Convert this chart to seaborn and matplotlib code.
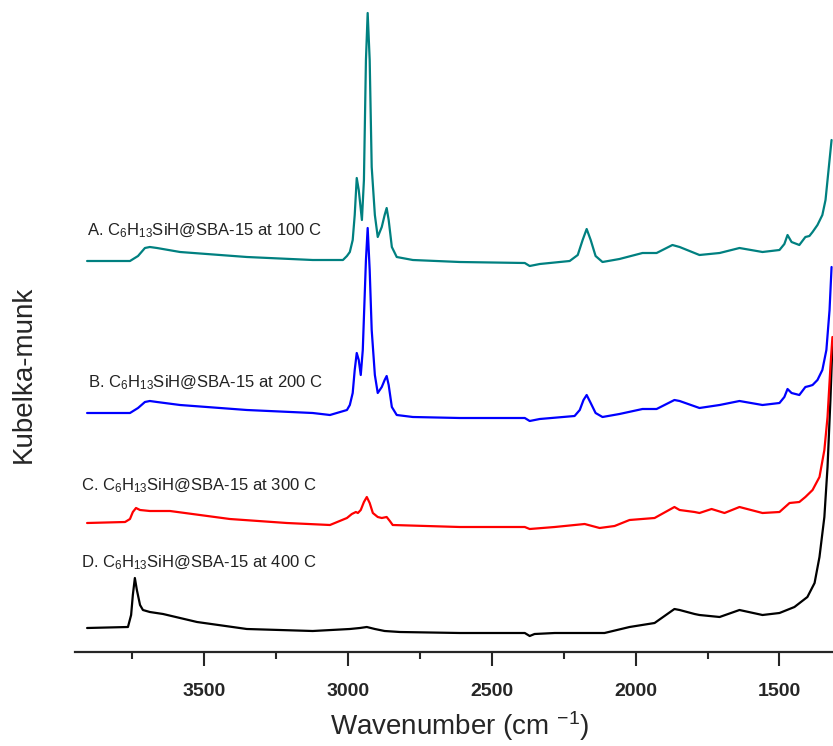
import matplotlib
matplotlib.use("Agg")
import matplotlib.pyplot as plt
import seaborn as sns
import pandas as pd
from matplotlib.ticker import MultipleLocator

# DRIFT spectra (Kubelka-Munk, vertically offset) of C6H13SiH@SBA-15 after heating
wn_a = [3906, 3757, 3729, 3705, 3688, 3663, 3583, 3351, 3122, 3017, 3003, 2993, 2983, 2976, 2969, 2962,
        2951, 2944, 2937, 2931, 2924, 2917, 2906, 2896, 2882, 2872, 2865, 2858, 2847, 2830, 2774, 2611,
        2385, 2368, 2333, 2229, 2201, 2184, 2170, 2156, 2139, 2115, 2056, 1976, 1927, 1872, 1847, 1778,
        1708, 1639, 1559, 1500, 1483, 1472, 1458, 1431, 1410, 1396, 1385, 1368, 1351, 1340, 1333, 1326, 1319]
km_a = [3.91, 3.91, 3.96, 4.04, 4.05, 4.04, 4.00, 3.95, 3.92, 3.92, 3.96, 4.00, 4.12, 4.37, 4.74, 4.62,
        4.32, 4.72, 5.92, 6.39, 5.92, 4.85, 4.37, 4.15, 4.25, 4.37, 4.44, 4.32, 4.05, 3.95, 3.92, 3.90,
        3.89, 3.86, 3.88, 3.91, 3.97, 4.12, 4.23, 4.12, 3.96, 3.90, 3.93, 3.99, 3.99, 4.07, 4.05, 3.97,
        3.99, 4.04, 4.00, 4.02, 4.08, 4.17, 4.10, 4.07, 4.15, 4.16, 4.20, 4.27, 4.37, 4.52, 4.72, 4.92, 5.12]

wn_b = [3906, 3757, 3729, 3705, 3688, 3663, 3583, 3351, 3122, 3062, 3003, 2993, 2983, 2976, 2969, 2962,
        2955, 2948, 2937, 2931, 2924, 2917, 2906, 2896, 2882, 2872, 2865, 2858, 2847, 2830, 2774, 2611,
        2385, 2368, 2333, 2212, 2194, 2181, 2170, 2156, 2139, 2115, 2056, 1976, 1927, 1865, 1847, 1778,
        1708, 1639, 1559, 1500, 1483, 1472, 1458, 1431, 1410, 1396, 1385, 1368, 1351, 1337, 1326, 1319]
km_b = [2.39, 2.39, 2.44, 2.50, 2.51, 2.50, 2.47, 2.42, 2.39, 2.37, 2.42, 2.47, 2.59, 2.82, 2.99, 2.92,
        2.77, 3.02, 3.92, 4.24, 3.82, 3.22, 2.77, 2.59, 2.65, 2.72, 2.76, 2.67, 2.45, 2.37, 2.35, 2.34,
        2.34, 2.31, 2.33, 2.36, 2.42, 2.52, 2.57, 2.49, 2.39, 2.35, 2.38, 2.43, 2.43, 2.52, 2.51, 2.44,
        2.47, 2.51, 2.47, 2.49, 2.55, 2.63, 2.59, 2.57, 2.65, 2.66, 2.67, 2.72, 2.82, 3.02, 3.42, 3.85]

wn_c = [3906, 3774, 3757, 3747, 3736, 3722, 3688, 3618, 3410, 3212, 3062, 3003, 2986, 2972, 2965, 2955,
        2944, 2934, 2924, 2913, 2896, 2882, 2865, 2854, 2844, 2611, 2385, 2368, 2281, 2177, 2125, 2073,
        2021, 1934, 1865, 1847, 1795, 1778, 1736, 1691, 1639, 1559, 1500, 1465, 1431, 1410, 1385, 1361,
        1344, 1333, 1323, 1316]
km_c = [1.29, 1.30, 1.33, 1.40, 1.44, 1.42, 1.41, 1.41, 1.33, 1.29, 1.27, 1.34, 1.38, 1.40, 1.39, 1.42,
        1.50, 1.55, 1.49, 1.39, 1.35, 1.34, 1.35, 1.31, 1.27, 1.25, 1.25, 1.23, 1.25, 1.28, 1.24, 1.26,
        1.32, 1.34, 1.45, 1.42, 1.40, 1.39, 1.43, 1.39, 1.45, 1.39, 1.40, 1.49, 1.50, 1.55, 1.62, 1.75,
        2.02, 2.35, 2.85, 3.15]

wn_d = [3906, 3764, 3753, 3747, 3740, 3733, 3722, 3712, 3688, 3642, 3524, 3351, 3122, 2993, 2958, 2934,
        2906, 2872, 2819, 2611, 2385, 2368, 2351, 2281, 2108, 2021, 1934, 1865, 1847, 1795, 1778, 1708,
        1639, 1559, 1500, 1448, 1403, 1378, 1361, 1344, 1333, 1323, 1316]
km_d = [0.24, 0.25, 0.37, 0.57, 0.74, 0.62, 0.47, 0.42, 0.40, 0.38, 0.30, 0.23, 0.21, 0.23, 0.24, 0.25,
        0.23, 0.21, 0.20, 0.19, 0.19, 0.16, 0.18, 0.19, 0.19, 0.25, 0.29, 0.43, 0.42, 0.38, 0.37, 0.35,
        0.42, 0.37, 0.39, 0.45, 0.55, 0.69, 0.95, 1.35, 1.85, 2.52, 3.07]

labels = [r"A. C$_{6}$H$_{13}$SiH@SBA-15 at 100 C",
          r"B. C$_{6}$H$_{13}$SiH@SBA-15 at 200 C",
          r"C. C$_{6}$H$_{13}$SiH@SBA-15 at 300 C",
          r"D. C$_{6}$H$_{13}$SiH@SBA-15 at 400 C"]
colors = ["#008080", "#0000FF", "#FF0000", "#000000"]
label_pos = [(3906, 4.17), (3902, 2.65), (3927, 1.62), (3927, 0.85)]

sns.set_style("white")
plt.rcParams["font.family"] = ["Liberation Sans", "DejaVu Sans"]
plt.rcParams["mathtext.fontset"] = "custom"
plt.rcParams["mathtext.rm"] = "Liberation Sans"
plt.rcParams["mathtext.it"] = "Liberation Sans"

fig = plt.figure(figsize=(8.33, 7.46), dpi=100)
ax = fig.add_axes([75 / 833, 94 / 746, 758 / 833, 652 / 746])

series = [(wn_d, km_d), (wn_c, km_c), (wn_b, km_b), (wn_a, km_a)]
cols = colors[::-1]
for (wn, km), col in zip(series, cols):
    df = pd.DataFrame({"wn": wn, "km": km})
    sns.lineplot(data=df, x="wn", y="km", ax=ax, color=col, linewidth=1.6, sort=False)

for txt, (x, y) in zip(labels, label_pos):
    ax.text(x, y, txt, fontsize=12, color="#222222", ha="left", va="baseline")

ax.set_xlim(3948, 1314)
ax.set_ylim(0, 6.52)
for s in ["top", "right", "left"]:
    ax.spines[s].set_visible(False)
ax.spines["bottom"].set_linewidth(1.6)
ax.set_yticks([])
ax.xaxis.set_major_locator(MultipleLocator(500))
ax.xaxis.set_minor_locator(MultipleLocator(250))
ax.tick_params(axis="x", which="major", direction="out", length=10, width=1.5, pad=12,
               labelsize=14, bottom=True)
ax.tick_params(axis="x", which="minor", direction="out", length=5, width=1.5, bottom=True)
for t in ax.get_xticklabels():
    t.set_fontweight("bold")
ax.set_xlabel("")
ax.set_ylabel("")
fig.text(460 / 833, 20 / 746, r"Wavenumber (cm $^{-1}$)", fontsize=20,
         ha="center", va="center")
fig.text(24 / 833, (746 - 374) / 746, "Kubelka-munk", fontsize=20, rotation=90,
         ha="center", va="center")

fig.savefig("out.png", dpi=100)
